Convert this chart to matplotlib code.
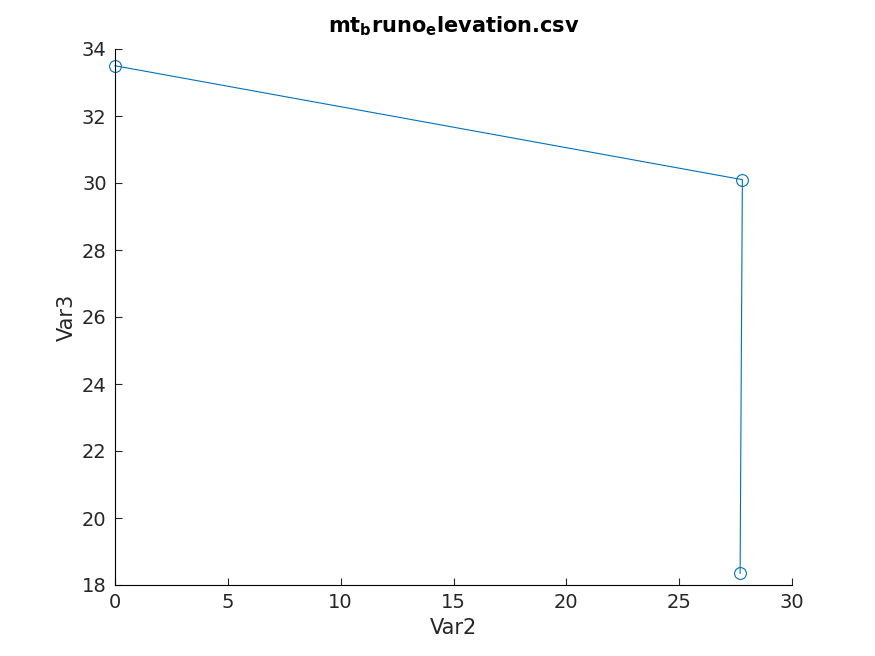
import matplotlib.pyplot as plt

# values
var2 = [0, 27.8, 27.7]
var3 = [33.5, 30.1, 18.35]
xticks = [0, 5, 10, 15, 20, 25, 30]
yticks = [18, 20, 22, 24, 26, 28, 30, 32, 34]

fig = plt.figure(figsize=(8.75, 6.56), dpi=100)
ax = fig.add_axes([115/875, 1-585/656, (792-115)/875, (585-49)/656])
ax.plot(var2, var3, color='#0072bd', lw=0.8, marker='o', ms=8.5, mfc='none', mew=0.8, clip_on=False)
ax.set_xlim(0, 30)
ax.set_ylim(18, 34)
ax.set_xticks(xticks)
ax.set_yticks(yticks)
ax.spines['top'].set_visible(False)
ax.spines['right'].set_visible(False)
ax.tick_params(direction='in', labelsize=14, colors='#262626', length=5, pad=6)
ax.set_xlabel('Var2', fontsize=15, color='#262626')
ax.set_ylabel('Var3', fontsize=15, color='#262626')
ax.set_title(r'mt$_\mathbf{b}$runo$_\mathbf{e}$levation.csv', fontsize=15, fontweight='bold', pad=12)
fig.savefig('out.png')
